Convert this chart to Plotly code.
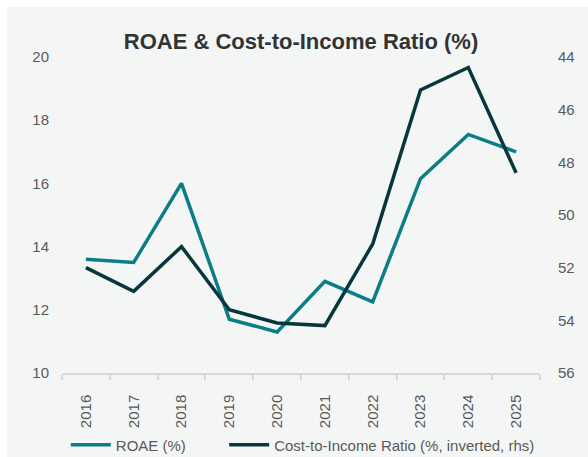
import plotly.graph_objects as go

# Annual figures
years = ["2016", "2017", "2018", "2019", "2020", "2021", "2022", "2023", "2024", "2025"]
roae = [13.6, 13.5, 16.0, 11.7, 11.3, 12.9, 12.25, 16.15, 17.55, 17.0]
cost_income = [52.0, 52.9, 51.2, 53.6, 54.1, 54.2, 51.1, 45.25, 44.4, 48.4]

TEAL = "#0B7D86"
DARK = "#07363D"
TICK_GREY = "#595959"
FONT = "Liberation Sans, Arial, sans-serif"

# trailing non-breaking spaces widen the first legend entry
ENTRY_PAD = "\u00a0" * 8

fig = go.Figure()
fig.add_trace(go.Scatter(
    x=years, y=roae, name="ROAE (%)" + ENTRY_PAD, mode="lines",
    line=dict(color=TEAL, width=3.5), yaxis="y",
))
fig.add_trace(go.Scatter(
    x=years, y=cost_income, name="Cost-to-Income Ratio (%, inverted, rhs)", mode="lines",
    line=dict(color=DARK, width=3.5), yaxis="y2",
))

fig.update_layout(
    width=588, height=457,
    margin=dict(l=62, r=48, t=57, b=84, autoexpand=False),
    paper_bgcolor="white",
    plot_bgcolor="rgba(0,0,0,0)",
    font=dict(family=FONT, size=15, color=TICK_GREY),
    title=dict(
        text="<b>ROAE & Cost-to-Income Ratio (%)</b>",
        font=dict(family=FONT, size=22, color="#333333"),
        x=0.5, xref="paper", xanchor="center",
        y=1 - 41 / 457, yref="container", yanchor="middle",
    ),
    xaxis=dict(
        type="category", range=[-0.5, 9.5], showgrid=False, zeroline=False,
        showline=True, linecolor="#D9D6D3", linewidth=1.5,
        ticks="outside", ticklen=5, tickcolor="#D9D6D3", tickwidth=1.5,
        tickson="boundaries", tickangle=-90, automargin=False,
        tickfont=dict(size=15, color=TICK_GREY), ticklabelstandoff=14,
    ),
    yaxis=dict(
        range=[10, 20], dtick=2, showgrid=False, zeroline=False, showline=False,
        automargin=False,
        tickfont=dict(size=15, color=TICK_GREY), ticklabelstandoff=12,
    ),
    yaxis2=dict(
        range=[56, 44], dtick=2, overlaying="y", side="right",
        showgrid=False, zeroline=False, showline=False, automargin=False,
        ticks="outside", ticklen=14, tickcolor="rgba(0,0,0,0)",
        tickfont=dict(size=15, color=TICK_GREY),
    ),
    legend=dict(
        orientation="h", x=0.008, xanchor="left",
        y=(373 - 445) / 316, yanchor="middle",
        font=dict(size=15, color=TICK_GREY),
        bgcolor="rgba(0,0,0,0)", itemwidth=40,
    ),
    shapes=[dict(
        type="rect", xref="paper", yref="paper", layer="below",
        x0=(7 - 62) / 478, x1=(600 - 62) / 478,
        y0=-0.4, y1=(373 - 7) / 316,
        fillcolor="#F4F6F6", line=dict(width=0),
    )],
)

fig.write_html("out.html")
